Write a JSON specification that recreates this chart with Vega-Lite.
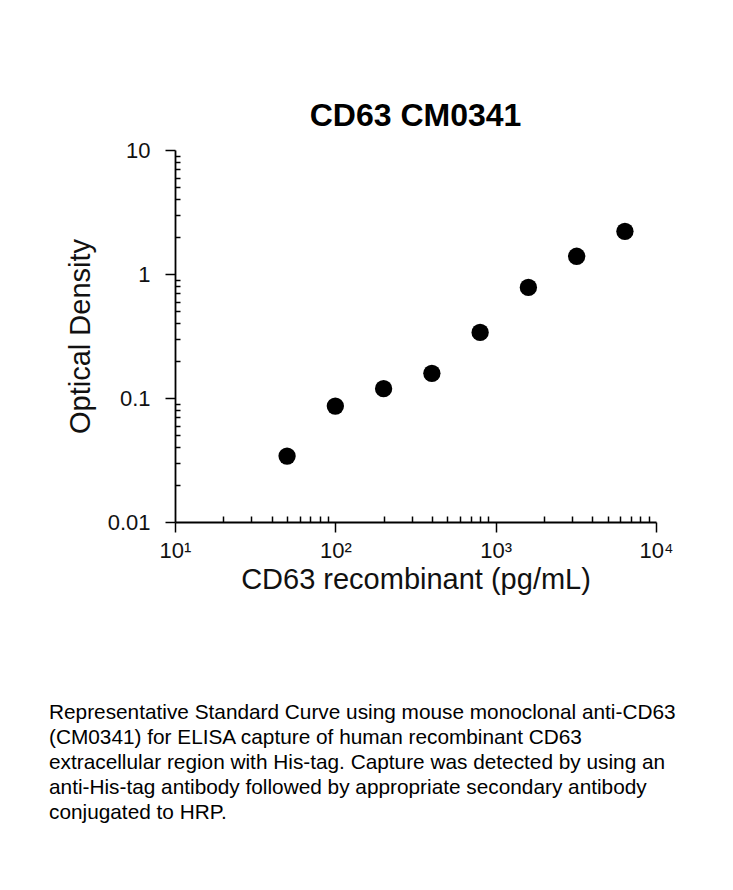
{
  "$schema": "https://vega.github.io/schema/vega-lite/v6.json",
  "padding": {"left": 49, "top": 100, "right": 5, "bottom": 5},
  "background": "white",
  "bounds": "flush",
  "spacing": 184,
  "config": {"view": {"stroke": null}, "font": "Liberation Sans"},
  "vconcat": [
    {
      "width": 481,
      "height": 372,
      "title": {"text": "CD63 CM0341", "fontSize": 32, "fontWeight": "bold", "font": "Liberation Sans", "color": "#000000", "baseline": "alphabetic", "offset": -19, "anchor": "middle"},
      "data": {"values": [
        {"conc": 50, "od": 0.034},
        {"conc": 100, "od": 0.086},
        {"conc": 200, "od": 0.119},
        {"conc": 400, "od": 0.158},
        {"conc": 800, "od": 0.338},
        {"conc": 1600, "od": 0.78},
        {"conc": 3200, "od": 1.39},
        {"conc": 6400, "od": 2.21}
      ]},
      "mark": {"type": "point", "filled": true, "shape": "circle", "size": 300, "color": "#000000", "opacity": 1},
      "encoding": {
        "x": {
          "field": "conc", "type": "quantitative",
          "scale": {"type": "log", "domain": [10, 10000], "nice": false},
          "axis": {
            "values": [10,20,30,40,50,60,70,80,90,100,200,300,400,500,600,700,800,900,1000,2000,3000,4000,5000,6000,7000,8000,9000,10000],
            "labelExpr": "datum.value == 10 ? '10¹' : datum.value == 100 ? '10²' : datum.value == 1000 ? '10³' : datum.value == 10000 ? '10⁴' : ''",
            "tickSize": {"condition": {"test": "datum.value == 10 || datum.value == 100 || datum.value == 1000 || datum.value == 10000", "value": 10}, "value": -6},
            "tickWidth": 1.5, "tickColor": "#000000", "domainColor": "#000000", "domainWidth": 1.8,
            "labelFontSize": 22, "labelColor": "#111111", "labelPadding": 8, "labelFlush": false, "labelOverlap": false, "labelBound": false,
            "grid": false,
            "title": "CD63 recombinant (pg/mL)", "titleFontSize": 29, "titleFontWeight": "normal", "titleColor": "#111111", "titlePadding": 4
          }
        },
        "y": {
          "field": "od", "type": "quantitative",
          "scale": {"type": "log", "domain": [0.01, 10], "nice": false},
          "axis": {
            "values": [0.01,0.02,0.03,0.04,0.05,0.06,0.07,0.08,0.09,0.1,0.2,0.3,0.4,0.5,0.6,0.7,0.8,0.9,1,2,3,4,5,6,7,8,9,10],
            "labelExpr": "datum.value == 10 ? '10' : datum.value == 1 ? '1' : datum.value == 0.1 ? '0.1' : datum.value == 0.01 ? '0.01' : ''",
            "tickSize": {"condition": {"test": "datum.value == 0.01 || datum.value == 0.1 || datum.value == 1 || datum.value == 10", "value": 10}, "value": -5},
            "tickWidth": 1.5, "tickColor": "#000000", "domainColor": "#000000", "domainWidth": 1.8,
            "labelFontSize": 22, "labelColor": "#111111", "labelPadding": 15, "labelOverlap": false, "labelBound": false, "labelFlush": false,
            "grid": false,
            "title": "Optical Density", "titleFontSize": 29, "titleFontWeight": "normal", "titleColor": "#111111", "titlePadding": 12
          }
        }
      }
    },
    {
      "width": 633,
      "height": {"step": 25},
      "data": {"values": [
        {"line": 1, "text": "Representative Standard Curve using mouse monoclonal anti-CD63"},
        {"line": 2, "text": "(CM0341) for ELISA capture of human recombinant CD63"},
        {"line": 3, "text": "extracellular region with His-tag. Capture was detected by using an"},
        {"line": 4, "text": "anti-His-tag antibody followed by appropriate secondary antibody"},
        {"line": 5, "text": "conjugated to HRP."}
      ]},
      "mark": {"type": "text", "align": "left", "baseline": "alphabetic", "fontSize": 20.8, "font": "Liberation Sans", "color": "#000000", "dx": -126},
      "encoding": {
        "y": {"field": "line", "type": "ordinal", "axis": null},
        "x": {"value": 0},
        "text": {"field": "text"}
      }
    }
  ]
}
